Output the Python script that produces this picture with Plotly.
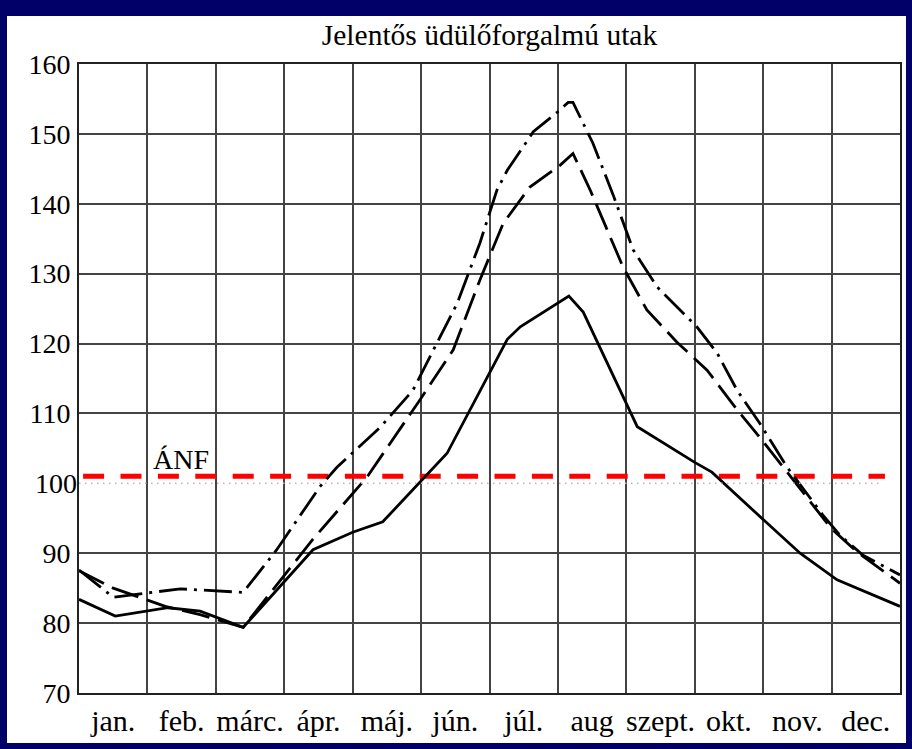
import plotly.graph_objects as go

months = ["jan.", "feb.", "márc.", "ápr.", "máj.", "jún.", "júl.", "aug",
          "szept.", "okt.", "nov.", "dec."]
month_centers = [0.5, 1.5, 2.5, 3.5, 4.5, 5.5, 6.5, 7.5, 8.5, 9.5, 10.5, 11.5]
y_grid_ticks = [70, 80, 90, 110, 120, 130, 140, 150, 160]
y_ref_tick = [100]

# solid line
solid_x = [0, 0.53, 1.30, 1.77, 2.40, 3.42, 4.00, 4.44, 5.38, 6.26, 6.45, 7.16,
           7.37, 8.16, 9.00, 9.25, 9.98, 10.54, 11.08, 12]
solid_y = [83.4, 81.0, 82.2, 81.7, 79.4, 90.5, 93.0, 94.5, 104.3, 120.6, 122.4, 126.8,
           124.5, 108.1, 103.0, 101.6, 95.0, 90.0, 86.2, 82.4]

# long-dash line
dash_x = [0, 0.50, 1.26, 1.77, 2.40, 3.42, 4.21, 4.98, 5.47, 5.86, 6.20, 6.59,
          7.03, 7.22, 7.47, 7.95, 8.30, 8.74, 9.18, 9.62, 9.95, 10.87, 10.99, 11.37, 12]
dash_y = [87.5, 85.0, 82.4, 81.2, 79.4, 92.0, 100.9, 111.9, 119.1, 129.1, 137.2, 142.4,
          145.5, 147.2, 142.0, 131.0, 124.8, 120.2, 116.2, 110.5, 106.6, 95.0, 93.6, 90.2, 85.7]

# dash-dot line
dd_x = [0, 0.50, 1.48, 2.40, 2.89, 3.52, 3.77, 4.40, 4.88, 5.23, 5.53, 5.86, 6.11,
        6.26, 6.64, 6.99, 7.15, 7.22, 7.51, 7.81, 8.10, 8.45, 9.03, 9.33, 9.62, 9.95,
        10.35, 10.87, 11.12, 11.46, 12]
dd_y = [87.6, 83.7, 84.9, 84.4, 90.5, 99.5, 102.3, 108.0, 113.3, 120.1, 125.8, 134.4, 142.0,
        144.8, 150.3, 153.1, 154.5, 154.5, 148.7, 141.2, 133.4, 128.1, 122.4, 118.6, 113.3, 108.6,
        102.3, 95.5, 92.6, 89.7, 86.9]

anf_x = [0.06, 11.78]
anf_y = [101, 101]
base_x = [0, 11.75]
base_y = [100, 100]

SERIF = "Liberation Serif"
NAVY = "#000068"

fig = go.Figure()
fig.add_trace(go.Scatter(x=base_x, y=base_y, mode="lines", yaxis="y2",
                         line=dict(color="#b8b8b8", width=1.5, dash="1.5px,4.5px"),
                         hoverinfo="skip", showlegend=False))
fig.add_trace(go.Scatter(x=anf_x, y=anf_y, mode="lines",
                         line=dict(color="#ff0000", width=5, dash="21px,16.4px"),
                         hoverinfo="skip", showlegend=False))
fig.add_trace(go.Scatter(x=solid_x, y=solid_y, mode="lines",
                         line=dict(color="black", width=2.8), showlegend=False))
fig.add_trace(go.Scatter(x=dash_x, y=dash_y, mode="lines",
                         line=dict(color="black", width=2.8, dash="28px,9px"), showlegend=False))
fig.add_trace(go.Scatter(x=dd_x, y=dd_y, mode="lines",
                         line=dict(color="black", width=2.8, dash="28px,7px,3px,7px"),
                         showlegend=False))

fig.add_annotation(x=1.49, y=103.4, text="ÁNF", showarrow=False,
                   font=dict(family=SERIF, size=28, color="black"))

fig.add_shape(type="rect", xref="paper", yref="paper",
              x0=-0.0877, x1=1.0073, y0=-0.0795, y1=1.0763,
              fillcolor="white", line=dict(width=0), layer="below")

tickfont_y = dict(family=SERIF, size=28, color="black")

fig.update_layout(
    width=912, height=749,
    margin=dict(l=79, r=12, t=64, b=56),
    paper_bgcolor=NAVY, plot_bgcolor="white",
    title=dict(text="Jelentős üdülőforgalmú utak", x=0.5, xref="paper",
               y=1 - 35 / 749, yref="container", yanchor="middle", xanchor="center",
               automargin=False,
               font=dict(family=SERIF, size=29.5, color="black")),
    xaxis=dict(range=[0, 12], tickmode="array", tickvals=month_centers, ticktext=months,
               showgrid=False, zeroline=False, showline=True, mirror=True,
               linecolor="#222", linewidth=2, ticks="", ticklabelstandoff=0,
               automargin=False,
               tickfont=dict(family=SERIF, size=30, color="black"),
               minor=dict(tickmode="linear", tick0=0, dtick=1, showgrid=True,
                          gridcolor="#444", gridwidth=1.6, ticks="")),
    yaxis=dict(range=[70, 160], tickmode="array", tickvals=y_grid_ticks,
               showgrid=True, gridcolor="#444", gridwidth=1.6, zeroline=False,
               showline=True, mirror=True, linecolor="#222", linewidth=2,
               ticks="", ticklabelstandoff=1, automargin=False,
               tickfont=tickfont_y),
    yaxis2=dict(range=[70, 160], overlaying="y", side="left", tickmode="array",
                tickvals=y_ref_tick, showgrid=False, zeroline=False, showline=False,
                ticks="", ticklabelstandoff=1, automargin=False, tickfont=tickfont_y),
)

fig.write_html("out.html", config={"displayModeBar": False},
               post_script="document.body.style.margin='0';document.body.style.overflow='hidden';")
